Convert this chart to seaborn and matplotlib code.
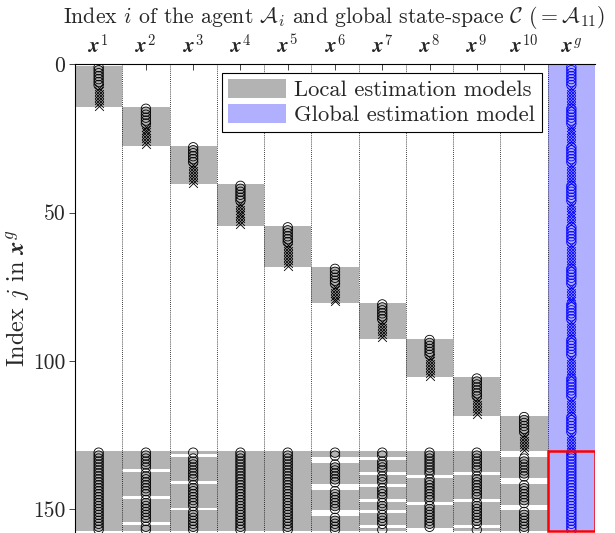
import numpy as np
import pandas as pd
import matplotlib
matplotlib.use("Agg")
import matplotlib.pyplot as plt
from matplotlib.patches import Patch, Rectangle
import seaborn as sns

# ---------------- data ----------------
column_labels = [r"$\boldsymbol{x}^{1}$", r"$\boldsymbol{x}^{2}$", r"$\boldsymbol{x}^{3}$",
                 r"$\boldsymbol{x}^{4}$", r"$\boldsymbol{x}^{5}$", r"$\boldsymbol{x}^{6}$",
                 r"$\boldsymbol{x}^{7}$", r"$\boldsymbol{x}^{8}$", r"$\boldsymbol{x}^{9}$",
                 r"$\boldsymbol{x}^{10}$", r"$\boldsymbol{x}^{g}$"]
agent_sizes = [14, 13, 13, 14, 14, 12, 12, 13, 13, 12]      # local states per agent
circle_counts = [7, 6, 6, 6, 6, 6, 6, 6, 7, 6]              # first states drawn as circles
shared_first = 131
shared_last = 157
missing_x1 = []
missing_x2 = [137, 146, 155]
missing_x3 = [132, 141, 150]
missing_x4 = []
missing_x5 = []
missing_x6 = [133, 134, 142, 143, 151, 152]
missing_x7 = [133, 138, 142, 147, 151, 156]
missing_x8 = [139, 148, 157]
missing_x9 = [138, 147, 156]
missing_x10 = [131, 132, 140, 141, 149, 150]
missing_shared = [missing_x1, missing_x2, missing_x3, missing_x4, missing_x5,
                  missing_x6, missing_x7, missing_x8, missing_x9, missing_x10]

GRAY = "#b3b3b3"
BLUE_FILL = "#b0b0ff"

# ---------------- build tables ----------------
rows = []
start = 1
for a, (n, nc) in enumerate(zip(agent_sizes, circle_counts), start=1):
    idx = np.arange(start, start + n)
    for k, j in enumerate(idx):
        kind = "o" if k < nc else "x"
        rows.append((a, j, kind))
        rows.append((11, j, kind))
    for j in range(shared_first, shared_last + 1):
        if j not in missing_shared[a - 1]:
            rows.append((a, j, "o"))
    start += n
for j in range(shared_first, shared_last + 1):
    rows.append((11, j, "o"))
df = pd.DataFrame(rows, columns=["col", "idx", "kind"])


def runs(vals):
    vals = sorted(vals)
    out = []
    s = p = vals[0]
    for v in vals[1:]:
        if v == p + 1:
            p = v
        else:
            out.append((s, p))
            s = p = v
    out.append((s, p))
    return out

# ---------------- figure ----------------
sns.set_theme(style="ticks")
plt.rcParams["font.family"] = ["serif"]
plt.rcParams["font.serif"] = ["cmr10", "DejaVu Serif"]
plt.rcParams["mathtext.fontset"] = "cm"
plt.rcParams["axes.unicode_minus"] = False
plt.rcParams["axes.formatter.use_mathtext"] = True

fig = plt.figure(figsize=(6.15, 5.33), dpi=100)
ax = fig.add_axes([75 / 615, 0.0, 520 / 615, (533 - 64.3) / 533])

# gray/blue backgrounds
for a in range(1, 11):
    sub = df[df.col == a]
    for s, e in runs(sub.idx.tolist()):
        ax.barh(y=(s + e) / 2, width=1, left=a - 0.5, height=e - s + 1,
                color=GRAY, linewidth=0, zorder=1)
gsub = df[df.col == 11]
g_top = 0
g_bot = gsub.idx.max() + 0.5
ax.barh(y=(g_top + g_bot) / 2, width=1, left=10.5, height=g_bot - g_top,
        color=BLUE_FILL, linewidth=0, zorder=1)

# dotted column separators
ax.vlines(np.arange(1.5, 11, 1.0), 0, 160, colors="black", linestyles=(0, (1, 1.5)),
          linewidth=0.6, zorder=2)

# markers
for col_group, color in [(df.col < 11, "black"), (df.col == 11, "blue")]:
    d_o = df[col_group & (df.kind == "o")]
    d_x = df[col_group & (df.kind == "x")]
    sns.scatterplot(x=d_o.col, y=d_o.idx, marker="o", s=46, facecolor="none",
                    edgecolor=color, linewidth=0.6, ax=ax, legend=False, zorder=3)
    sns.scatterplot(x=d_x.col, y=d_x.idx, marker="x", s=40, color=color,
                    linewidth=0.6, ax=ax, legend=False, zorder=3)

# red highlight of the shared states in the global model
ax.add_patch(Rectangle((10.5, shared_first - 0.5), 1, shared_last - shared_first + 1,
                       fill=False, edgecolor="red", linewidth=1.8, zorder=4))

ax.set_xlim(0.5, 11.5)
ax.set_ylim(158.1, 0)
ax.xaxis.tick_top()
ax.set_xticks(np.arange(1, 12))
ax.set_xticklabels(column_labels, fontsize=15)
ax.set_yticks([0, 50, 100, 150])
ax.set_yticklabels(["0", "50", "100", "150"], fontsize=15.5)
ax.tick_params(axis="x", direction="in", length=4, width=0.6, pad=5, top=True, bottom=False)
ax.tick_params(axis="y", direction="out", length=4, width=0.6, pad=3)
ax.set_xlabel("")
ax.set_ylabel(r"Index $j$ in $\boldsymbol{x}^{g}$", fontsize=17.5)
ax.yaxis.set_label_coords(-0.084, 0.5)
for side in ["right", "bottom"]:
    ax.spines[side].set_visible(False)
for side in ["top", "left"]:
    ax.spines[side].set_linewidth(0.8)
    ax.spines[side].set_color("black")

fig.text(334 / 615, 1 - 23 / 533,
         r"Index $i$ of the agent $\mathcal{A}_i$ and global state-space $\mathcal{C}$ $(=\mathcal{A}_{11})$",
         ha="center", va="baseline", fontsize=15.7)

handles = [Patch(facecolor=GRAY, edgecolor="none", label="Local estimation models"),
           Patch(facecolor=BLUE_FILL, edgecolor="none", label="Global estimation model")]
leg = ax.legend(handles=handles, loc="upper left", bbox_to_anchor=(0.282, 0.982),
                borderaxespad=0, fontsize=16.2, frameon=True, fancybox=False,
                framealpha=1, edgecolor="black", handlelength=2.6, handleheight=0.95,
                labelspacing=0.15, borderpad=0.28, handletextpad=0.35)
leg.get_frame().set_linewidth(0.8)
leg.set_zorder(6)

fig.savefig("out.png", dpi=100)
